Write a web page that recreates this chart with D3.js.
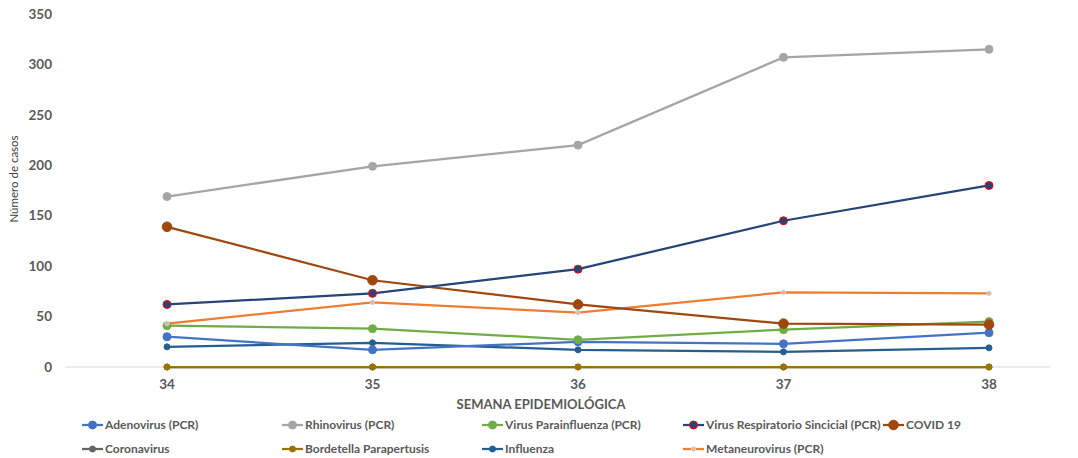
<!DOCTYPE html>
<html><head><meta charset="utf-8">
<script src="https://cdn.jsdelivr.net/npm/d3@7"></script>
<style>body{margin:0;background:#fff;} text{font-family:Lato,"Open Sans","Liberation Sans",sans-serif;}</style>
</head><body><svg id="c" width="1078" height="458"></svg>
<script>
const weeks = ["34","35","36","37","38"];
const yTicks = [0,50,100,150,200,250,300,350];
const adenovirus = [30,17,25,23,34];
const rhinovirus = [169,199,220,307,315];
const parainfluenza = [41,38,27,37,45];
const vrs = [62,73,97,145,180];
const covid = [139,86,62,43,42];
const coronavirus = [0,0,0,0,0];
const bordetella = [0,0,0,0,0];
const influenza = [20,24,17,15,19];
const metaneuro = [43,64,54,74,73];

const series = [
  {name:"Coronavirus", values:coronavirus, color:"#636363", r:3, mfill:"#636363", mstroke:"#636363"},
  {name:"Bordetella Parapertusis", values:bordetella, color:"#997300", r:3, mfill:"#997300", mstroke:"#997300"},
  {name:"Influenza", values:influenza, color:"#255E91", r:3, mfill:"#255E91", mstroke:"#255E91"},
  {name:"Adenovirus (PCR)", values:adenovirus, color:"#4472C4", r:4, mfill:"#4472C4", mstroke:"#4472C4"},
  {name:"Virus Parainfluenza (PCR)", values:parainfluenza, color:"#70AD47", r:4, mfill:"#70AD47", mstroke:"#70AD47"},
  {name:"Metaneurovirus (PCR)", values:metaneuro, color:"#ED7D31", r:2.2, mfill:"#F4B183", mstroke:"#BDD7EE"},
  {name:"COVID 19", values:covid, color:"#9E480E", r:4.8, mfill:"#9E480E", mstroke:"#9E480E"},
  {name:"Virus Respiratorio Sincicial (PCR)", values:vrs, color:"#264478", r:4, mfill:"#264478", mstroke:"#FF0000"},
  {name:"Rhinovirus (PCR)", values:rhinovirus, color:"#A5A5A5", r:4, mfill:"#A5A5A5", mstroke:"#A5A5A5"}
];
const legendOrder = [
  ["Adenovirus (PCR)",82,425],["Rhinovirus (PCR)",282,425],["Virus Parainfluenza (PCR)",482,425],
  ["Virus Respiratorio Sincicial (PCR)",683,425],["COVID 19",883,425],
  ["Coronavirus",82,449],["Bordetella Parapertusis",282,449],["Influenza",482,449],["Metaneurovirus (PCR)",683,449]
];

const svg = d3.select("#c");
const x = d3.scalePoint().domain(weeks).range([167,989]);
const y = d3.scaleLinear().domain([0,350]).range([367,14]);

svg.append("line").attr("x1",65).attr("x2",1050).attr("y1",y(0)).attr("y2",y(0))
  .attr("stroke","#d9d9d9").attr("stroke-width",1);

svg.append("g").selectAll("text").data(yTicks).join("text")
  .attr("x",52).attr("y",d=>y(d)).attr("dy","0.35em").attr("text-anchor","end")
  .attr("font-size",13.5).attr("font-weight","700").attr("fill","#595959").text(d=>d);
svg.append("g").selectAll("text").data(weeks).join("text")
  .attr("x",d=>x(d)).attr("y",389).attr("text-anchor","middle")
  .attr("font-size",13.5).attr("font-weight","700").attr("fill","#595959").text(d=>d);

svg.append("text").attr("x",541).attr("y",409).attr("text-anchor","middle")
  .attr("font-size",13).attr("font-weight","700").attr("fill","#595959").text("SEMANA EPIDEMIOLÓGICA");
svg.append("text").attr("transform","translate(18,179) rotate(-90)").attr("text-anchor","middle")
  .attr("font-size",11.5).attr("fill","#404040").text("Número de casos");

const line = d3.line().x((d,i)=>x(weeks[i])).y(d=>y(d));
series.forEach(s=>{
  const g = svg.append("g");
  g.append("path").attr("d",line(s.values)).attr("fill","none").attr("stroke",s.color).attr("stroke-width",2.25);
  g.selectAll("circle").data(s.values).join("circle")
    .attr("cx",(d,i)=>x(weeks[i])).attr("cy",d=>y(d)).attr("r",s.r)
    .attr("fill",s.mfill).attr("stroke",s.mstroke).attr("stroke-width",1);
});

const byName = Object.fromEntries(series.map(s=>[s.name,s]));
legendOrder.forEach(([n,lx,ly])=>{
  const s = byName[n];
  const g = svg.append("g");
  g.append("line").attr("x1",lx).attr("x2",lx+21).attr("y1",ly).attr("y2",ly).attr("stroke",s.color).attr("stroke-width",2.25);
  g.append("circle").attr("cx",lx+10.5).attr("cy",ly).attr("r",s.r).attr("fill",s.mfill).attr("stroke",s.mstroke);
  g.append("text").attr("x",lx+23).attr("y",ly).attr("dy","0.35em").attr("font-size",12).attr("font-weight","700")
    .attr("fill","#595959").text(n);
});
</script></body></html>
